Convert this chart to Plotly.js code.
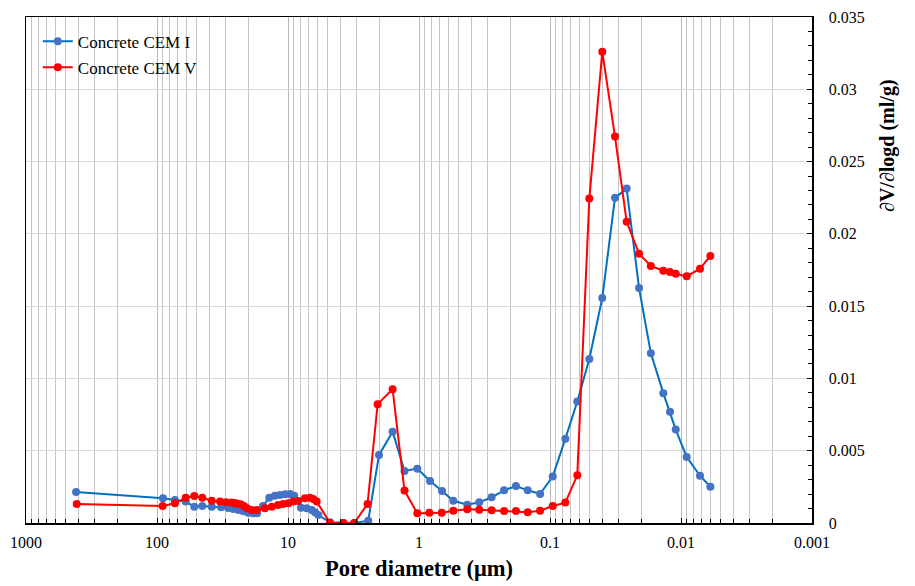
<!DOCTYPE html>
<html>
<head>
<meta charset="utf-8">
<script src="https://cdn.plot.ly/plotly-3.0.1.min.js"></script>
<style>html,body{margin:0;padding:0;background:#fff;}#chart{width:915px;height:586px;}</style>
</head>
<body>
<div id="chart"></div>
<script>
// Pore diameter (µm) and dV/dlogd (ml/g)
var cem1Diam = [415, 90, 73, 60.4, 51.9, 45.1, 38.2, 32.4, 28.6, 26.2, 23.9, 21.9, 20.1, 18.4, 17.2, 15.5, 13.9, 12.6, 11.5, 10.5, 9.66, 8.96, 7.96, 7.2, 6.59, 6.22, 5.87, 4.78, 3.78, 3.12, 2.44, 2.02, 1.59, 1.29, 1.03, 0.824, 0.667, 0.547, 0.428, 0.347, 0.279, 0.224, 0.182, 0.148, 0.119, 0.0953, 0.0764, 0.0619, 0.0501, 0.0399, 0.0319, 0.026, 0.0209, 0.017, 0.01365, 0.01213, 0.01097, 0.00905, 0.00716, 0.00597];
var cem1Val = [0.00215, 0.00171, 0.00159, 0.00148, 0.00113, 0.00118, 0.00113, 0.00109, 0.00104, 0.00097, 0.0009, 0.00081, 0.00071, 0.00067, 0.00067, 0.00118, 0.00175, 0.00189, 0.00194, 0.00199, 0.00201, 0.00189, 0.00106, 0.00102, 0.0009, 0.00074, 0.00055, 0.00005, 0, 0, 0.00016, 0.00471, 0.00632, 0.0036, 0.00376, 0.00291, 0.00222, 0.00154, 0.00127, 0.00143, 0.00178, 0.00226, 0.00256, 0.00226, 0.00201, 0.00321, 0.00582, 0.0084, 0.01134, 0.01556, 0.02249, 0.02313, 0.01625, 0.01175, 0.00898, 0.00769, 0.00646, 0.00457, 0.00327, 0.00251];

var cem5Diam = [410, 90.6, 73, 60.4, 51.9, 45.1, 38.2, 33, 29.7, 26.9, 25.4, 24.4, 23, 21.7, 20.5, 18.9, 17.3, 15, 13.3, 11.9, 10.9, 9.95, 9.12, 8.35, 7.42, 6.8, 6.41, 6.04, 4.78, 3.78, 3.12, 2.47, 2.07, 1.59, 1.29, 1.03, 0.834, 0.671, 0.547, 0.428, 0.347, 0.279, 0.224, 0.182, 0.148, 0.119, 0.0953, 0.0764, 0.0619, 0.0501, 0.0399, 0.0319, 0.026, 0.0209, 0.017, 0.01365, 0.01213, 0.01097, 0.00905, 0.00716, 0.00597];
var cem5Val = [0.00132, 0.00118, 0.00136, 0.00175, 0.00187, 0.00175, 0.00154, 0.00148, 0.00143, 0.00141, 0.00139, 0.00134, 0.0013, 0.00118, 0.00102, 0.0009, 0.0009, 0.00102, 0.00113, 0.00125, 0.00132, 0.00136, 0.00148, 0.00152, 0.00171, 0.00175, 0.00166, 0.00148, 0, 0, 0, 0.00132, 0.00822, 0.00926, 0.00224, 0.00067, 0.00071, 0.00071, 0.00085, 0.00095, 0.00092, 0.00088, 0.00083, 0.00083, 0.00074, 0.00085, 0.00118, 0.00141, 0.0033, 0.02244, 0.0326, 0.02673, 0.02084, 0.01863, 0.01778, 0.01745, 0.01736, 0.01724, 0.01706, 0.01759, 0.01847];

var xTickVals = [1000, 100, 10, 1, 0.1, 0.01, 0.001];
var xTickText = ["1000", "100", "10", "1", "0.1", "0.01", "0.001"];
var seriesNames = ["Concrete CEM I", "Concrete CEM V"];

var FONT = "Liberation Serif, Times New Roman, serif";

var traces = [
  {
    x: cem1Diam, y: cem1Val, name: seriesNames[0], type: "scatter", mode: "lines+markers",
    line: {color: "#0070C0", width: 2},
    marker: {color: "#4472C4", size: 8},
    legendgroup: "a"
  },
  {
    x: cem5Diam, y: cem5Val, name: seriesNames[1], type: "scatter", mode: "lines+markers",
    line: {color: "#FF0000", width: 2},
    marker: {color: "#FF0000", size: 8},
    legendgroup: "b"
  }
];

var layout = {
  width: 915, height: 586,
  margin: {l: 26, r: 103, t: 17, b: 63},
  paper_bgcolor: "#ffffff", plot_bgcolor: "#ffffff",
  font: {family: FONT, size: 15, color: "#000"},
  showlegend: true,
  legend: {x: 0.015, y: 0.987, xanchor: "left", yanchor: "top", bgcolor: "rgba(0,0,0,0)",
           font: {family: FONT, size: 17, color: "#000"}, tracegroupgap: 1},
  xaxis: {
    type: "log", range: [3, -3],
    tickvals: xTickVals, ticktext: xTickText,
    showgrid: true, gridcolor: "#b8b8b8", gridwidth: 1,
    ticks: "inside", ticklen: 5, tickcolor: "#000", tickwidth: 1,
    minor: {dtick: "D1", showgrid: true, gridcolor: "#c4c4c4", gridwidth: 1, ticks: "inside", ticklen: 4, tickcolor: "#000"},
    showline: true, linecolor: "#000", linewidth: 1.5, mirror: true,
    zeroline: false,
    ticklabelstandoff: 4,
    tickfont: {family: FONT, size: 16, color: "#000"},
    title: {text: "<b>Pore diametre (μm)</b>", font: {family: FONT, size: 22.5, color: "#000"}, standoff: 10}
  },
  yaxis: {
    side: "right", range: [0, 0.035], dtick: 0.005,
    showgrid: true, gridcolor: "#d9d9d9", gridwidth: 1,
    ticks: "inside", ticklen: 5, tickcolor: "#000",
    minor: {dtick: 0.001, ticks: "inside", ticklen: 4, tickcolor: "#000", showgrid: false},
    showline: true, linecolor: "#000", linewidth: 1.5, mirror: true,
    zeroline: false,
    ticklabelstandoff: 12,
    tickfont: {family: FONT, size: 16, color: "#000"}
  },
  annotations: [{
    text: "<b>∂V/∂logd (ml/g)</b>", textangle: -90,
    xref: "paper", yref: "paper", x: (888 - 26) / 786, y: (523 - 146) / 506,
    xanchor: "center", yanchor: "middle", showarrow: false,
    font: {family: FONT, size: 20, color: "#000"}
  }]
};

Plotly.newPlot("chart", traces, layout, {displayModeBar: false, staticPlot: true});
</script>
</body>
</html>
